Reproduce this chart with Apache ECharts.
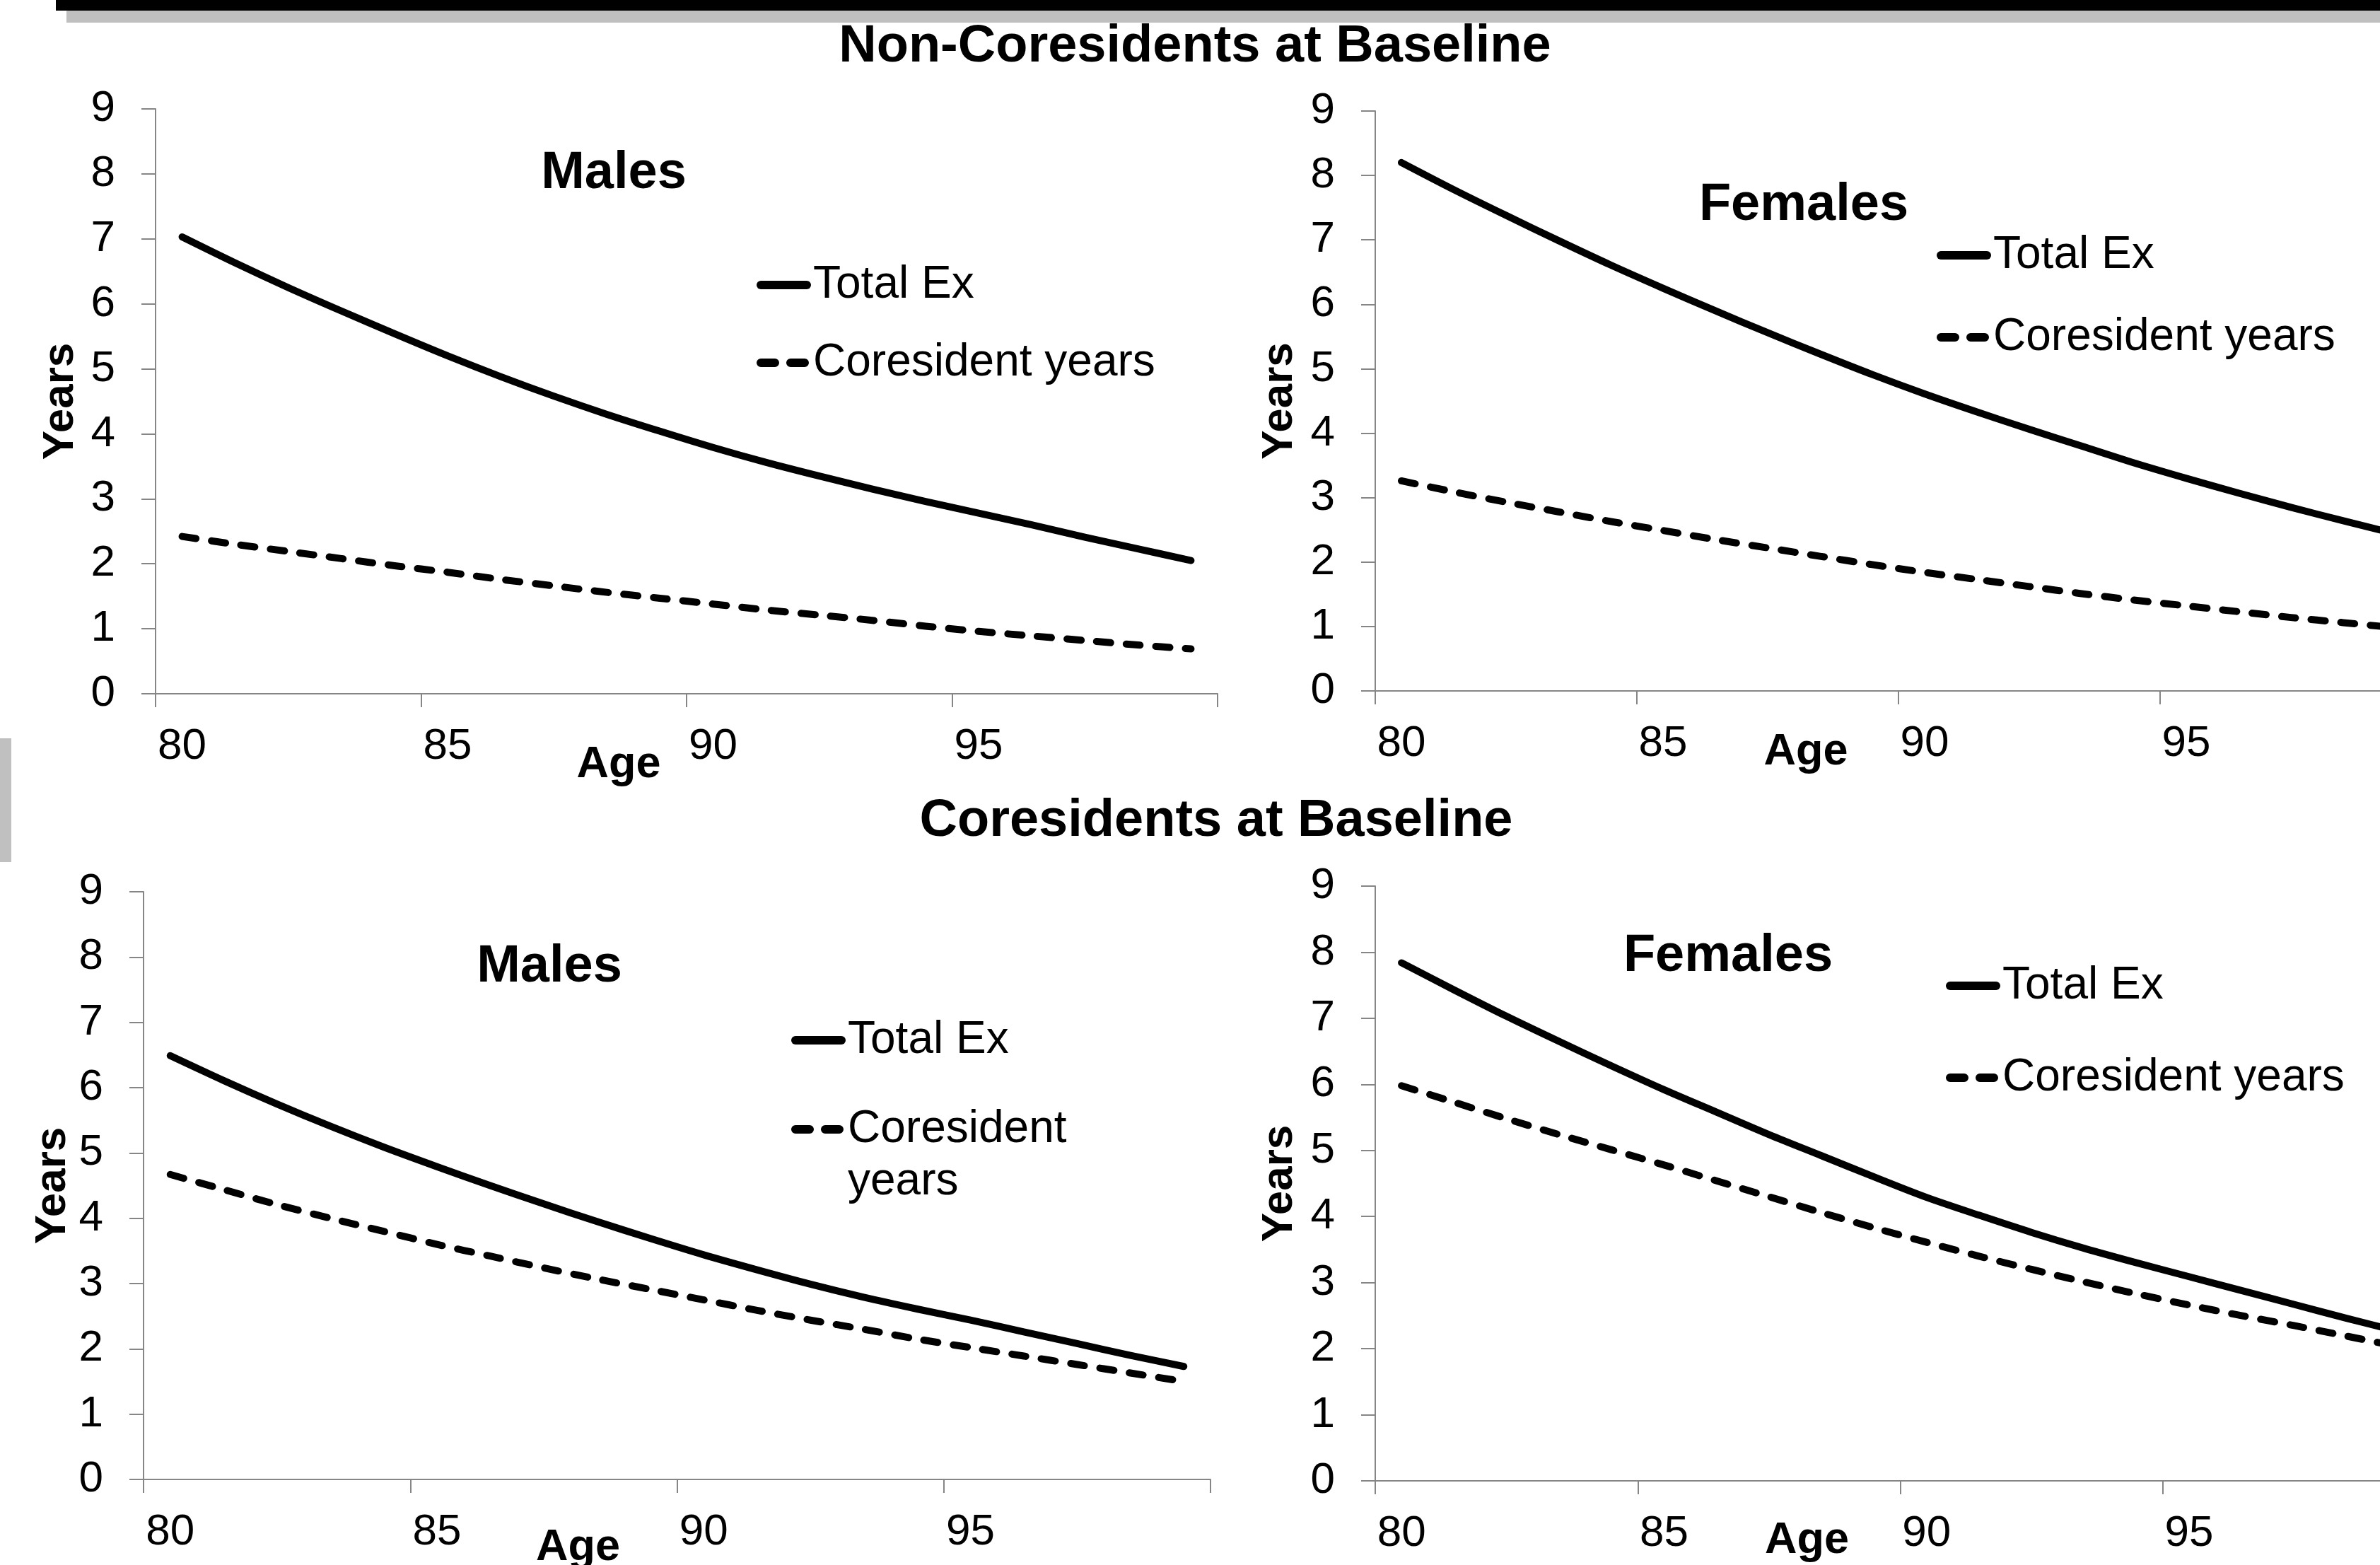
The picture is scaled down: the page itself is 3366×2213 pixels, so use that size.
<!DOCTYPE html>
<html>
<head>
<meta charset="utf-8">
<script src="https://cdn.jsdelivr.net/npm/echarts@6/dist/echarts.min.js"></script>
<style>
  html, body { margin: 0; padding: 0; background: #fff; overflow: hidden; }
  #chart { width: 3366px; height: 2213px; }
</style>
</head>
<body>
<div id="chart"></div>
<script>
// ---------------- DATA ----------------
const ages = ['80','81','82','83','84','85','86','87','88','89','90','91','92','93','94','95','96','97','98','99'];
const seriesNames = ['Total Ex', 'Coresident years'];
const mainTitles = ['Non-Coresidents at Baseline', 'Coresidents at Baseline'];
const panelTitles = ['Males', 'Females', 'Males', 'Females'];

// Non-coresidents at baseline
const ncMaleTotal   = [7.03, 6.63, 6.25, 5.89, 5.54, 5.20, 4.88, 4.58, 4.30, 4.04, 3.79, 3.56, 3.35, 3.15, 2.96, 2.78, 2.60, 2.41, 2.23, 2.05];
const ncMaleCores   = [2.42, 2.30, 2.19, 2.08, 1.97, 1.87, 1.76, 1.66, 1.56, 1.47, 1.38, 1.29, 1.21, 1.13, 1.04, 0.96, 0.89, 0.82, 0.75, 0.69];
const ncFemaleTotal = [8.20, 7.78, 7.38, 6.99, 6.61, 6.25, 5.90, 5.56, 5.23, 4.91, 4.61, 4.33, 4.06, 3.80, 3.54, 3.30, 3.07, 2.85, 2.64, 2.44];
const ncFemaleCores = [3.26, 3.09, 2.93, 2.78, 2.63, 2.49, 2.35, 2.22, 2.09, 1.96, 1.84, 1.73, 1.62, 1.51, 1.41, 1.32, 1.23, 1.14, 1.06, 0.98];
// Coresidents at baseline
const coMaleTotal   = [6.49, 6.11, 5.75, 5.41, 5.09, 4.79, 4.50, 4.22, 3.95, 3.69, 3.44, 3.21, 2.99, 2.79, 2.61, 2.44, 2.26, 2.08, 1.90, 1.73];
const coMaleCores   = [4.67, 4.44, 4.21, 4.00, 3.80, 3.60, 3.42, 3.24, 3.07, 2.91, 2.75, 2.59, 2.44, 2.30, 2.15, 2.02, 1.89, 1.76, 1.63, 1.50];
const coFemaleTotal = [7.84, 7.43, 7.03, 6.65, 6.28, 5.92, 5.58, 5.24, 4.92, 4.60, 4.29, 4.02, 3.76, 3.52, 3.30, 3.09, 2.88, 2.67, 2.46, 2.26];
const coFemaleCores = [5.98, 5.73, 5.48, 5.24, 5.01, 4.78, 4.54, 4.30, 4.06, 3.83, 3.61, 3.40, 3.20, 3.01, 2.83, 2.66, 2.50, 2.35, 2.19, 2.03];

// ---------------- LAYOUT ----------------
const FONT = '"Liberation Sans", Arial, Helvetica, sans-serif';
const AXIS_COLOR = '#868686';

const panels = [
  { data: [ncMaleTotal, ncMaleCores],     grid: {left: 220,  top: 154,  width: 1502, height: 827},
    ageGap: 69, agePad: 192, yearsGap: 103, legendLeft: 1070, legendCenters: [403, 513],  wrap: false,
    title: {x: 868,  y: 246} },
  { data: [ncFemaleTotal, ncFemaleCores], grid: {left: 1945, top: 157,  width: 1480, height: 820},
    ageGap: 55, agePad: 262, yearsGap: 104, legendLeft: 2739, legendCenters: [361, 477],  wrap: false,
    title: {x: 2551, y: 291} },
  { data: [coMaleTotal, coMaleCores],     grid: {left: 203,  top: 1261, width: 1509, height: 831},
    ageGap: 65, agePad: 280, yearsGap: 97,  legendLeft: 1119, legendCenters: [1471, 1597], wrap: true,
    title: {x: 777,  y: 1368} },
  { data: [coFemaleTotal, coFemaleCores], grid: {left: 1945, top: 1253, width: 1485, height: 841},
    ageGap: 53, agePad: 264, yearsGap: 104, legendLeft: 2752, legendCenters: [1394, 1524], wrap: false,
    title: {x: 2444, y: 1353} }
];

const grids = [], xAxes = [], yAxes = [], series = [], legends = [];
const WRAP_LH = 74;

panels.forEach((p, i) => {
  grids.push(Object.assign({containLabel: false, outerBoundsMode: 'none'}, p.grid));
  xAxes.push({
    gridIndex: i, type: 'category', data: ages, boundaryGap: true,
    axisLine: {show: true, lineStyle: {color: AXIS_COLOR, width: 2}},
    axisTick: {show: true, interval: 4, length: 19, lineStyle: {color: AXIS_COLOR, width: 2}},
    axisLabel: {interval: 4, margin: 44, fontSize: 62, lineHeight: 62, color: '#000', fontFamily: FONT},
    splitLine: {show: false},
    name: 'Age', nameLocation: 'middle', nameGap: p.ageGap, nameMoveOverlap: false,
    nameTextStyle: {fontWeight: 'bold', fontSize: 63, lineHeight: 63, color: '#000', fontFamily: FONT,
                    padding: [0, p.agePad, 0, 0]}
  });
  yAxes.push({
    gridIndex: i, type: 'value', min: 0, max: 9, interval: 1,
    axisLine: {show: true, lineStyle: {color: AXIS_COLOR, width: 2}},
    axisTick: {show: true, length: 20, lineStyle: {color: AXIS_COLOR, width: 2}},
    axisLabel: {margin: 57, fontSize: 62, lineHeight: 62, color: '#000', fontFamily: FONT},
    splitLine: {show: false},
    name: 'Years', nameLocation: 'middle', nameGap: p.yearsGap, nameMoveOverlap: false,
    nameTextStyle: {fontWeight: 'bold', fontSize: 62, lineHeight: 62, color: '#000', fontFamily: FONT}
  });
  p.data.forEach((vals, k) => {
    series.push({
      type: 'line', name: seriesNames[k], xAxisIndex: i, yAxisIndex: i,
      data: vals, symbol: 'none', smooth: 0.3, silent: true,
      itemStyle: {color: '#000'},
      lineStyle: {color: '#000', width: 10, type: k === 0 ? 'solid' : [20, 22], cap: 'round', join: 'round'}
    });
  });
  seriesNames.forEach((nm, k) => {
    const wrapIt = p.wrap && k === 1;
    legends.push({
      orient: 'vertical', left: p.legendLeft,
      top: p.legendCenters[k] - (wrapIt ? WRAP_LH * 1.5 : 32),
      data: [nm], selectedMode: false, padding: 0, itemGap: 0,
      itemWidth: 65, itemHeight: 14,
      lineStyle: {width: 12},
      itemStyle: {opacity: 0},
      // wrapped label: an empty first line keeps "Coresident" level with the icon
      formatter: wrapIt ? (() => '\nCoresident\nyears') : undefined,
      textStyle: {fontSize: 64, lineHeight: wrapIt ? WRAP_LH : 64, color: '#000', fontFamily: FONT,
                  padding: [0, 0, 0, 4]}
    });
  });
});

function txt(text, x, y, size) {
  return {
    type: 'text', x: x, y: y, silent: true,
    style: {
      text: text, fill: '#000',
      font: 'bold ' + size + 'px ' + FONT,
      align: 'center', verticalAlign: 'middle',
      textAlign: 'center', textVerticalAlign: 'middle'
    }
  };
}

const graphics = [
  {type: 'rect', shape: {x: 79, y: 0, width: 3300, height: 15}, style: {fill: '#000'}, silent: true},
  {type: 'rect', shape: {x: 94, y: 15, width: 3300, height: 17}, style: {fill: '#bfbfbf'}, silent: true},
  {type: 'rect', shape: {x: 0, y: 1044, width: 16, height: 175}, style: {fill: '#c0c0c0'}, silent: true},
  txt(mainTitles[0], 1690, 67, 74),
  txt(mainTitles[1], 1720, 1162, 74)
];
panels.forEach((p, i) => graphics.push(txt(panelTitles[i], p.title.x, p.title.y, 74)));

const chart = echarts.init(document.getElementById('chart'), null, {renderer: 'canvas'});
chart.setOption({
  backgroundColor: '#ffffff',
  animation: false,
  textStyle: {fontFamily: FONT},
  grid: grids,
  xAxis: xAxes,
  yAxis: yAxes,
  legend: legends,
  series: series,
  graphic: graphics
});
</script>
</body>
</html>
